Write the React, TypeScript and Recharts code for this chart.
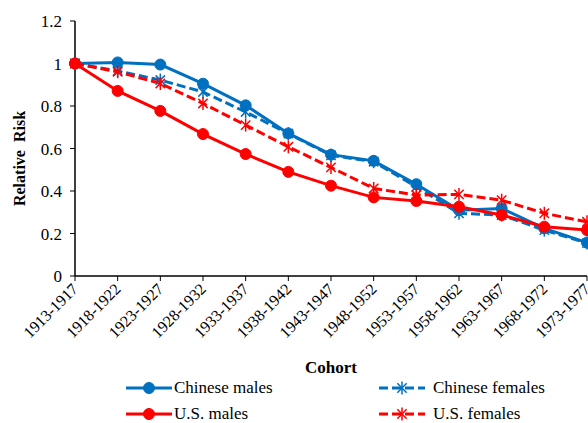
import { Legend, Line, LineChart, XAxis, YAxis } from 'recharts';

const COHORTS = [
  '1913-1917', '1918-1922', '1923-1927', '1928-1932', '1933-1937', '1938-1942', '1943-1947',
  '1948-1952', '1953-1957', '1958-1962', '1963-1967', '1968-1972', '1973-1977',
];
const CHINESE_MALES = [1.0, 1.005, 0.995, 0.905, 0.803, 0.671, 0.571, 0.542, 0.432, 0.31, 0.318, 0.224, 0.157];
const CHINESE_FEMALES = [1.0, 0.965, 0.922, 0.866, 0.772, 0.67, 0.568, 0.538, 0.42, 0.295, 0.287, 0.216, 0.155];
const US_MALES = [1.0, 0.871, 0.777, 0.668, 0.574, 0.49, 0.425, 0.37, 0.353, 0.326, 0.287, 0.232, 0.216];
const US_FEMALES = [1.0, 0.961, 0.906, 0.812, 0.71, 0.608, 0.511, 0.412, 0.381, 0.384, 0.357, 0.295, 0.255];
const Y_TICKS = [0, 0.2, 0.4, 0.6, 0.8, 1, 1.2];

const BLUE = '#0070C0';
const RED = '#FF0000';
const FONT = '"Liberation Serif", "Times New Roman", serif';

const data = COHORTS.map((cohort, i) => ({
  cohort,
  chineseMales: CHINESE_MALES[i],
  chineseFemales: CHINESE_FEMALES[i],
  usMales: US_MALES[i],
  usFemales: US_FEMALES[i],
}));

const SERIES = [
  { key: 'chineseMales', name: 'Chinese males', color: BLUE, dashed: false },
  { key: 'chineseFemales', name: 'Chinese females', color: BLUE, dashed: true },
  { key: 'usMales', name: 'U.S. males', color: RED, dashed: false },
  { key: 'usFemales', name: 'U.S. females', color: RED, dashed: true },
];

function Star({ cx, cy, color }: { cx?: number; cy?: number; color: string }) {
  if (cx == null || cy == null) return null;
  const r = 6.5;
  const d = r * 0.72;
  return (
    <g stroke={color} strokeWidth={1.5}>
      <line x1={cx} y1={cy - r} x2={cx} y2={cy + r} />
      <line x1={cx - d} y1={cy - d} x2={cx + d} y2={cy + d} />
      <line x1={cx - d} y1={cy + d} x2={cx + d} y2={cy - d} />
    </g>
  );
}

function Dot({ cx, cy, color }: { cx?: number; cy?: number; color: string }) {
  if (cx == null || cy == null) return null;
  return <circle cx={cx} cy={cy} r={5.5} fill={color} stroke={color} />;
}

function XTick({ x, y, payload }: any) {
  return (
    <g transform={`translate(${x + 4},${y + 7}) rotate(-45)`}>
      <text x={0} y={0} textAnchor="end" fontFamily={FONT} fontSize={16} fill="#000">
        {payload.value}
      </text>
    </g>
  );
}

function YLabel({ viewBox }: any) {
  const cx = 19;
  const cy = viewBox.y + viewBox.height / 2 + 10;
  return (
    <text
      x={cx}
      y={cy}
      transform={`rotate(-90, ${cx}, ${cy})`}
      textAnchor="middle"
      dominantBaseline="central"
      fontFamily={FONT}
      fontSize={16}
      fontWeight="bold"
      style={{ whiteSpace: 'pre' }}
    >
      {'Relative  Risk'}
    </text>
  );
}

function LegendItem({ s }: { s: (typeof SERIES)[number] }) {
  return (
    <div style={{ display: 'flex', alignItems: 'center', height: 26 }}>
      <svg width={50} height={14}>
        <line
          x1={2}
          y1={7}
          x2={48}
          y2={7}
          stroke={s.color}
          strokeWidth={3}
          strokeDasharray={s.dashed ? '9 4' : undefined}
        />
        {s.dashed ? <Star cx={25} cy={7} color={s.color} /> : <Dot cx={25} cy={7} color={s.color} />}
      </svg>
      <span style={{ marginLeft: s.dashed ? 6 : 0, fontFamily: FONT, fontSize: 17 }}>{s.name}</span>
    </div>
  );
}

function LegendContent() {
  return (
    <div style={{ position: 'relative', height: 47 }}>
      <div style={{ position: 'absolute', left: 124, top: -1 }}>
        <LegendItem s={SERIES[0]} />
        <LegendItem s={SERIES[2]} />
      </div>
      <div style={{ position: 'absolute', left: 377, top: -1 }}>
        <LegendItem s={SERIES[1]} />
        <LegendItem s={SERIES[3]} />
      </div>
    </div>
  );
}

export default function App() {
  return (
    <div style={{ position: 'absolute', left: 0, top: 0, width: 588, height: 423, background: '#fff' }}>
      <LineChart width={588} height={423} data={data} margin={{ top: 21, right: 1, bottom: 0, left: 0 }}>
        <XAxis
          dataKey="cohort"
          interval={0}
          height={100}
          tick={<XTick />}
          tickSize={5}
          stroke="#000"
          axisLine={{ stroke: '#000', strokeWidth: 1.5 }}
          tickLine={{ stroke: '#000' }}
          label={{
            value: 'Cohort',
            position: 'insideBottom',
            offset: 3,
            fontFamily: FONT,
            fontSize: 17,
            fontWeight: 'bold',
            fill: '#000',
          }}
        />
        <YAxis
          domain={[0, 1.2]}
          ticks={Y_TICKS}
          width={75}
          tickSize={5}
          tickMargin={8}
          stroke="#000"
          axisLine={{ stroke: '#000', strokeWidth: 1.5 }}
          tick={{ fontFamily: FONT, fontSize: 17, fill: '#000' }}
          label={<YLabel />}
        />
        <Legend verticalAlign="bottom" height={47} content={<LegendContent />} />
        {SERIES.map((s) => (
          <Line
            key={s.key}
            dataKey={s.key}
            name={s.name}
            stroke={s.color}
            strokeWidth={3}
            strokeDasharray={s.dashed ? '9 4' : undefined}
            dot={(p: any) =>
              s.dashed ? (
                <Star key={p.index} cx={p.cx} cy={p.cy} color={s.color} />
              ) : (
                <Dot key={p.index} cx={p.cx} cy={p.cy} color={s.color} />
              )
            }
            activeDot={false}
            isAnimationActive={false}
          />
        ))}
      </LineChart>
    </div>
  );
}
